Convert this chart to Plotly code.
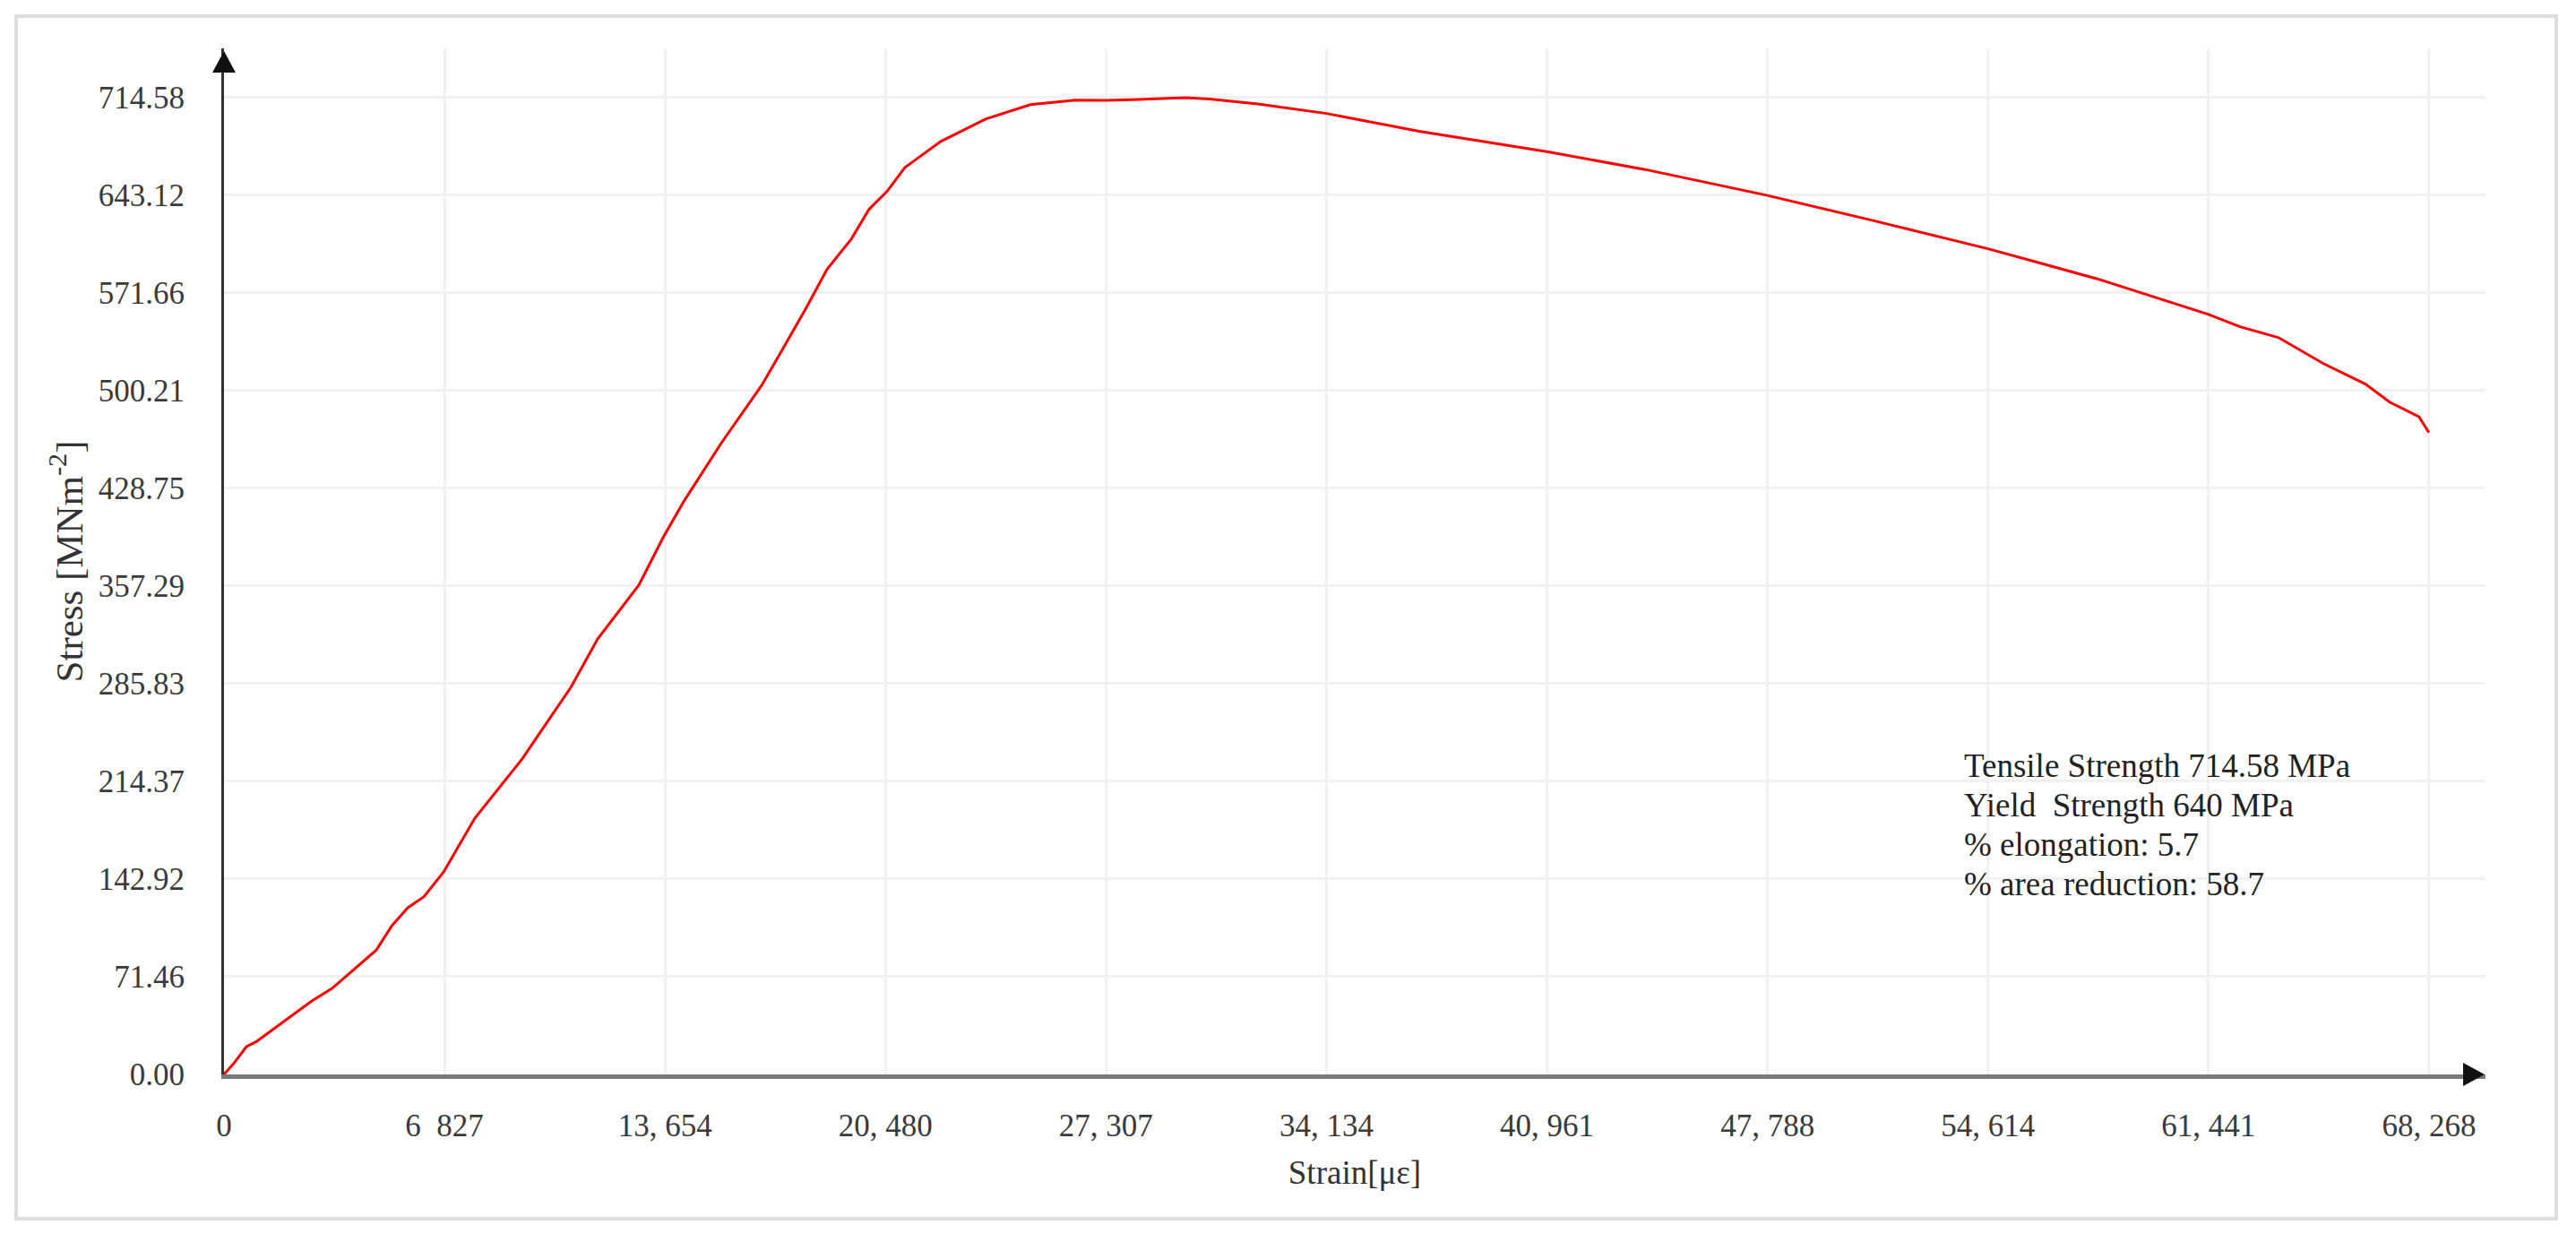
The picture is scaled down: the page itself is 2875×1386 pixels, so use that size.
#!/usr/bin/env python3
# -*- coding: utf-8 -*-
"""
plot.py - stress/strain curve of the tensile test
"""

import plotly.graph_objects as go

# === DATA ===
STRAIN = [0, 300, 694, 1000, 1734, 2720, 3343, 3830, 4716, 5200, 5690, 6190,
          6797, 7767, 8600, 9238, 9986, 10735, 11568, 12844, 13593, 14230,
          15400, 16644, 17282, 18031, 18670, 19418, 19973, 20528, 21082,
          22192, 23579, 24966, 26353, 27326, 28655, 29765, 30514, 32000,
          34134, 37000, 40961, 44000, 47788, 51000, 54614, 58000, 61441,
          62418, 63610, 65000, 66300, 67040, 67960, 68266]
STRESS = [0, 8, 20.3, 24, 36.7, 53.8, 62.9, 72.8, 91, 108.8, 122, 130,
          148, 187.5, 212, 231, 257, 283, 318.6, 358, 392.7, 419,
          462, 504, 530, 561, 589, 611, 633, 646, 663.5,
          682.5, 698.9, 709.4, 712.7, 712.6, 713.5, 714.58, 713.5, 710,
          703, 690, 675, 662, 643, 625, 604, 582, 556,
          547, 539, 520, 505, 492, 481, 469.5]

X_TICKS = [0, 6827, 13654, 20480, 27307, 34134, 40961, 47788, 54614, 61441, 68268]
X_LABELS = ["0", "6\u00a0\u00a0827", "13, 654", "20, 480", "27, 307", "34, 134",
            "40, 961", "47, 788", "54, 614", "61, 441", "68, 268"]
Y_TICKS = [0, 71.46, 142.92, 214.37, 285.83, 357.29, 428.75, 500.21, 571.66, 643.12, 714.58]
Y_LABELS = ["%.2f" % v for v in Y_TICKS]

INFO_LINES = ["Tensile Strength 714.58 MPa",
              "Yield\u00a0 Strength 640 MPa",
              "% elongation: 5.7",
              "% area reduction: 58.7"]

# === LAYOUT (pixels) ===
W, H = 2875, 1386
PLOT_L, PLOT_R, PLOT_T, PLOT_B = 250, 2774, 54, 1199
X_MAX = 70018
Y_MAX = 750.6
FONT = "Liberation Serif"


def px_to_paper(px, py):
    """Convert page pixels to paper coordinates of the plot area."""
    return ((px - PLOT_L) / (PLOT_R - PLOT_L), (PLOT_B - py) / (PLOT_B - PLOT_T))


def triangle_path(points):
    """SVG path (paper coords) for an arrow head given in page pixels."""
    parts = []
    for i, (px, py) in enumerate(points):
        x, y = px_to_paper(px, py)
        parts.append(("M" if i == 0 else "L") + " %.5f %.5f" % (x, y))
    return " ".join(parts) + " Z"


def build_figure():
    fig = go.Figure()
    fig.add_trace(go.Scatter(
        x=STRAIN, y=STRESS, mode="lines",
        line=dict(color="#ff0000", width=3),
        showlegend=False, hoverinfo="x+y"
    ))

    fig.update_layout(
        width=W, height=H,
        margin=dict(l=PLOT_L, r=W - PLOT_R, t=PLOT_T, b=H - PLOT_B, pad=0),
        paper_bgcolor="white", plot_bgcolor="white",
        font=dict(family=FONT, size=35, color="#333333"),
        showlegend=False,
    )
    fig.update_xaxes(
        range=[0, X_MAX], tickvals=X_TICKS, ticktext=X_LABELS,
        showgrid=True, gridcolor="#f1f1f1", gridwidth=3,
        showline=True, linecolor="#7a7a7a", linewidth=5,
        zeroline=False, ticks="", ticklabelstandoff=22,
        tickfont=dict(family=FONT, size=35, color="#3a3a3a"),
        title=dict(text="Strain[\u03bc\u03b5]", standoff=22,
                   font=dict(family=FONT, size=37, color="#333333")),
    )
    fig.update_yaxes(
        range=[0, Y_MAX], tickvals=Y_TICKS, ticktext=Y_LABELS,
        showgrid=True, gridcolor="#f1f1f1", gridwidth=3,
        showline=True, linecolor="#333333", linewidth=3,
        zeroline=False, ticks="", ticklabelstandoff=34,
        tickfont=dict(family=FONT, size=35, color="#3a3a3a"),
        title=dict(text="Stress [MNm<sup>-2</sup>]", standoff=4,
                   font=dict(family=FONT, size=43, color="#333333")),
    )

    # outer frame
    x0, y0 = px_to_paper(18, 1360)
    x1, y1 = px_to_paper(2853, 18)
    fig.add_shape(type="rect", xref="paper", yref="paper",
                  x0=x0, y0=y0, x1=x1, y1=y1,
                  line=dict(color="#dddddd", width=4), layer="below")

    # arrow heads on both axes
    fig.add_shape(type="path", xref="paper", yref="paper",
                  path=triangle_path([(PLOT_L, 57), (PLOT_L - 13, 81), (PLOT_L + 13, 81)]),
                  fillcolor="#111111", line=dict(width=0))
    fig.add_shape(type="path", xref="paper", yref="paper",
                  path=triangle_path([(2773, PLOT_B), (2749, PLOT_B - 13), (2749, PLOT_B + 13)]),
                  fillcolor="#111111", line=dict(width=0))

    # test summary, one annotation per line
    for i, line in enumerate(INFO_LINES):
        tx, ty = px_to_paper(2190, 854 + i * 44)
        fig.add_annotation(xref="paper", yref="paper", x=tx, y=ty,
                           xanchor="left", yanchor="middle", align="left",
                           showarrow=False, text=line,
                           font=dict(family=FONT, size=37, color="#222222"))
    return fig


def main():
    fig = build_figure()
    fig.write_html("out.html", config={"displayModeBar": False},
                   post_script="document.body.style.margin='0';document.body.style.overflow='hidden';")
    print("[OK] out.html written")


if __name__ == "__main__":
    main()
